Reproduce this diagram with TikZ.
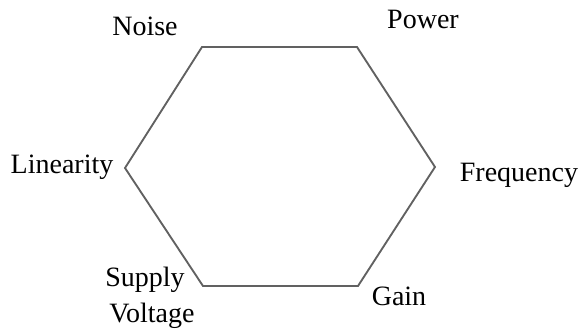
\documentclass[tikz,border=0pt]{standalone}
\usepackage{fontspec}
\setmainfont{Liberation Serif}
\begin{document}
\begin{tikzpicture}[x=0.75pt,y=-0.75pt,
  lbl/.style={anchor=base,inner sep=0pt,font=\fontsize{21}{25}\selectfont},
  hexline/.style={draw=black!62,line width=1.4pt,line join=miter}]
\useasboundingbox (0,0) rectangle (583,329);
\coordinate (tl) at (202,47);
\coordinate (tr) at (357,47);
\coordinate (r) at (435,167);
\coordinate (br) at (358,286);
\coordinate (bl) at (203,286);
\coordinate (l) at (125,168);
\draw[hexline] (tl) -- (tr) -- (r) -- (br) -- (bl) -- (l) -- cycle;
\node[lbl] (noise) at (145,35) {Noise};
\node[lbl] (power) at (423,28) {Power};
\node[lbl] (lin) at (62,173) {Linearity};
\node[lbl] (freq) at (519,181) {Frequency};
\node[lbl] (supply) at (145,286) {Supply};
\node[lbl] (volt) at (152,322) {Voltage};
\node[lbl] (gain) at (399,305) {Gain};
\end{tikzpicture}
\end{document}
